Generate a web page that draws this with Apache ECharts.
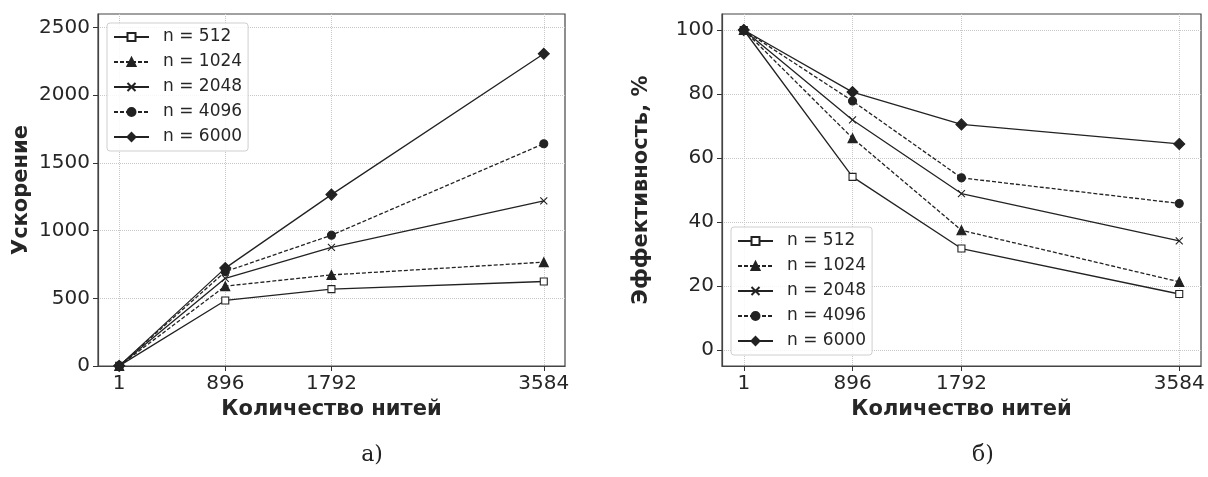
<!DOCTYPE html>
<html>
<head>
<meta charset="utf-8">
<script src="https://cdn.jsdelivr.net/npm/echarts@6/dist/echarts.min.js"></script>
<style>
  html, body { margin: 0; padding: 0; background: #fff; }
  #main { width: 1208px; height: 477px; }
</style>
</head>
<body>
<div id="main"></div>
<script>
// threads on x axis
const threads = [1, 896, 1792, 3584];
const seriesNames = ['n = 512', 'n = 1024', 'n = 2048', 'n = 4096', 'n = 6000'];

// speedup (left)
const speedup512 = [1, 484, 568, 624];
const speedup1024 = [1, 590, 673, 767];
const speedup2048 = [1, 648, 876, 1219];
const speedup4096 = [1, 697, 966, 1642];
const speedup6000 = [1, 723, 1266, 2306];

// efficiency, % (right)
const eff512 = [100, 54.1, 31.7, 17.5];
const eff1024 = [100, 66.2, 37.4, 21.3];
const eff2048 = [100, 71.9, 48.9, 34.1];
const eff4096 = [100, 77.8, 53.8, 45.8];
const eff6000 = [100, 80.6, 70.5, 64.4];

const speedupTicks = [0, 500, 1000, 1500, 2000, 2500];
const effTicks = [0, 20, 40, 60, 80, 100];

const ink = '#222';
const tickFont = { fontFamily: 'DejaVu Sans', fontSize: 20, color: '#262626' };
const titleFont = { fontFamily: 'DejaVu Sans', fontSize: 21, fontWeight: 'bold', color: '#262626' };

// marker look per series
const looks = [
  { symbol: 'rect', size: 7, dash: 'solid', fill: '#fff' },
  { symbol: 'triangle', size: 9, dash: [4, 2], fill: ink },
  { symbol: 'path://M0,0L10,10M10,0L0,10', size: 7, dash: 'solid', fill: ink },
  { symbol: 'circle', size: 8, dash: [4, 2], fill: ink },
  { symbol: 'diamond', size: 11, dash: 'solid', fill: ink }
];

function makeSeries(values, idx, gridIdx) {
  const look = looks[idx];
  return {
    name: seriesNames[idx],
    type: 'line',
    xAxisIndex: gridIdx,
    yAxisIndex: gridIdx,
    data: threads.map((t, i) => [t, values[i]]),
    symbol: look.symbol,
    symbolSize: look.size,
    showAllSymbol: true,
    animation: false,
    lineStyle: { color: ink, width: 1.3, type: look.dash },
    itemStyle: { color: look.fill, borderColor: ink, borderWidth: 1.1 },
    emphasis: { disabled: true }
  };
}

const plain = v => String(v);

function xAxisFor(gridIdx) {
  return {
    type: 'value',
    gridIndex: gridIdx,
    min: -178,
    max: 3763,
    name: 'Количество нитей',
    nameLocation: 'middle',
    nameGap: 33,
    nameTextStyle: titleFont,
    axisLine: { show: true, onZero: false, lineStyle: { color: '#444', width: 1.2 } },
    axisTick: { show: true, inside: false, length: 5, customValues: threads, lineStyle: { color: '#333' } },
    axisLabel: { customValues: threads, margin: 8, formatter: plain, ...tickFont },
    splitLine: { show: true, lineStyle: { color: '#c8c8c8', type: 'dotted', width: 1 } }
  };
}

function yAxisFor(gridIdx, min, max, ticks, name, gap) {
  return {
    type: 'value',
    gridIndex: gridIdx,
    min: min,
    max: max,
    name: name,
    nameLocation: 'middle',
    nameGap: gap,
    nameTextStyle: titleFont,
    axisLine: { show: true, onZero: false, lineStyle: { color: '#444', width: 1.2 } },
    axisTick: { show: true, inside: false, length: 5, customValues: ticks, lineStyle: { color: '#333' } },
    axisLabel: { customValues: ticks, margin: 8, formatter: plain, ...tickFont },
    splitLine: { show: true, lineStyle: { color: '#c8c8c8', type: 'dotted', width: 1 } }
  };
}

function legendAt(left, top) {
  return {
    data: seriesNames,
    orient: 'vertical',
    left: left,
    top: top,
    itemWidth: 35,
    itemHeight: 10,
    itemGap: 5,
    padding: [4, 6, 4, 6],
    backgroundColor: 'rgba(255,255,255,0.85)',
    borderColor: '#cfcfcf',
    borderWidth: 1,
    borderRadius: 3,
    selectedMode: false,
    textStyle: { fontFamily: 'DejaVu Sans', fontSize: 17, color: '#262626', lineHeight: 20, padding: [0, 0, 0, 9] }
  };
}

const speedups = [speedup512, speedup1024, speedup2048, speedup4096, speedup6000];
const effs = [eff512, eff1024, eff2048, eff4096, eff6000];

const option = {
  backgroundColor: '#fff',
  animation: false,
  grid: [
    { left: 98, top: 14, width: 467, height: 352, show: true, borderColor: '#444', borderWidth: 1.2, backgroundColor: 'transparent' },
    { left: 722, top: 14, width: 479, height: 352, show: true, borderColor: '#444', borderWidth: 1.2, backgroundColor: 'transparent' }
  ],
  xAxis: [xAxisFor(0), xAxisFor(1)],
  yAxis: [
    yAxisFor(0, 0, 2600, speedupTicks, 'Ускорение', 66),
    yAxisFor(1, -5, 105, effTicks, 'Эффективность, %', 70)
  ],
  legend: [legendAt(107, 23), legendAt(731, 227)],
  series: [
    ...speedups.map((v, i) => makeSeries(v, i, 0)),
    ...effs.map((v, i) => makeSeries(v, i, 1))
  ],
  graphic: [
    { type: 'text', x: 372, y: 455, style: { text: 'а)', font: '22px "DejaVu Serif"', textAlign: 'center', textVerticalAlign: 'middle', fill: '#222' } },
    { type: 'text', x: 983, y: 455, style: { text: 'б)', font: '22px "DejaVu Serif"', textAlign: 'center', textVerticalAlign: 'middle', fill: '#222' } }
  ]
};

const chart = echarts.init(document.getElementById('main'), null, { renderer: 'canvas' });
chart.setOption(option);
</script>
</body>
</html>
